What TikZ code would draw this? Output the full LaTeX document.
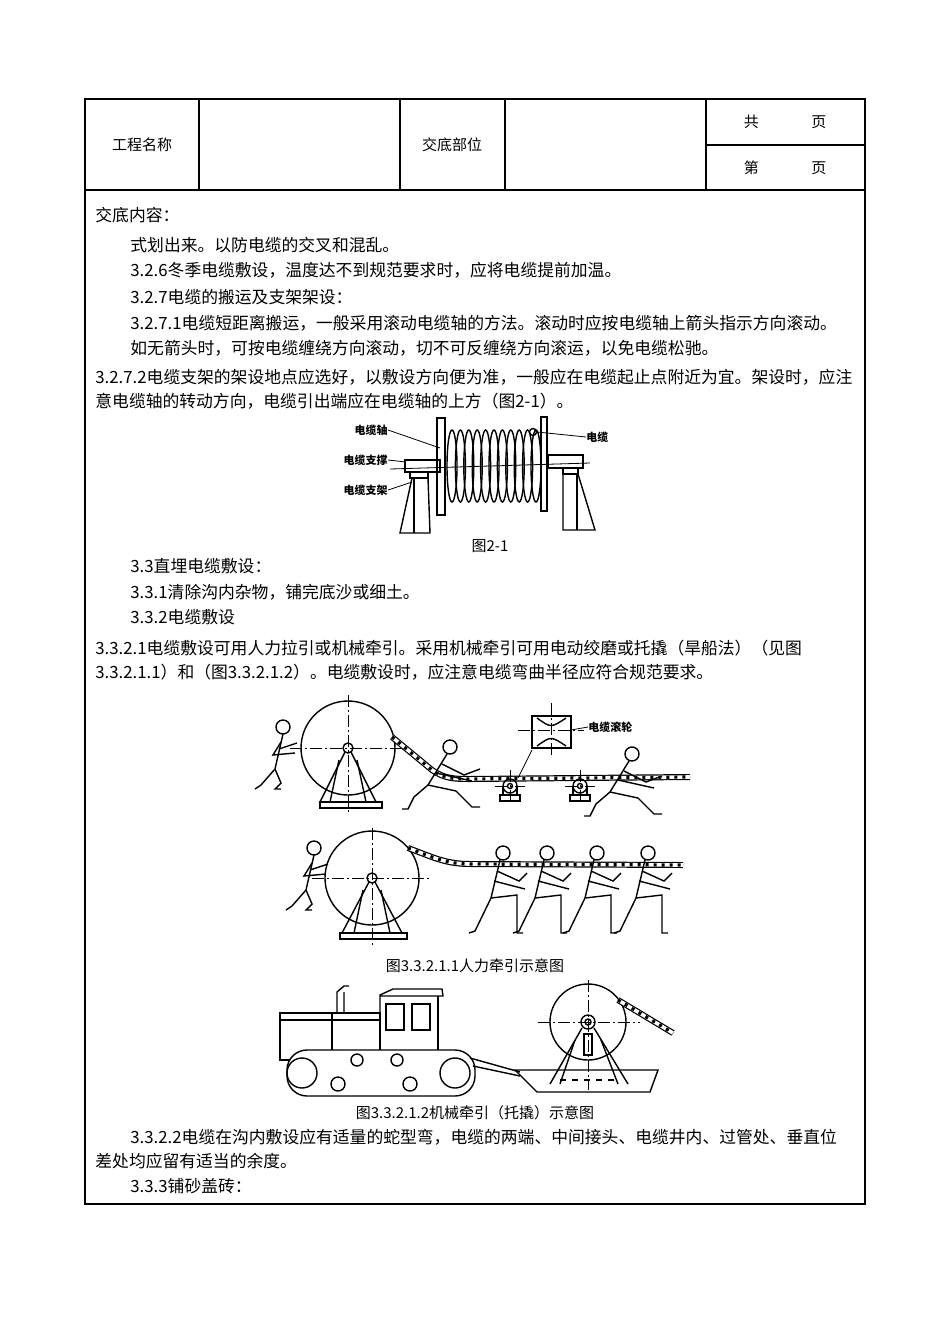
\documentclass[tikz,border=0pt]{standalone}
\usepackage{fontspec}
\setmainfont{Noto Sans CJK SC}
\usetikzlibrary{positioning,calc}
\tikzset{
  x=0.5pt, y=-0.5pt,
  txt/.style={anchor=west, inner sep=0pt, font=\fontsize{8.4pt}{10pt}\selectfont},
  captxt/.style={inner sep=0pt, font=\fontsize{7.5pt}{9pt}\selectfont},
  lbl/.style={inner sep=0pt, font=\bfseries\fontsize{5.5pt}{7pt}\selectfont},
  grid/.style={line width=0.6pt},
  fig/.style={line width=0.7pt},
  axis/.style={line width=0.4pt, dash pattern=on 6pt off 1.5pt on 1pt off 1.5pt},
  pics/walker/.style={code={
    \draw[fig] (0,0) circle (7);
    \draw[fig] (-3,7) -- (-12,45) -- (-28,78) -- (-34,80);
    \draw[fig] (-12,45) -- (14,42) -- (14,80) -- (20,80);
    \draw[fig] (-6,18) -- (16,28) -- (24,20);
    \draw[fig] (-9,28) -- (22,36);}},
  pics/leaner/.style={code={
    \draw[fig] (0,0) circle (7);
    \draw[fig] (-3,7) -- (-22,38) -- (-36,50) -- (-42,62) -- (-48,62);
    \draw[fig] (-22,38) -- (6,44) -- (22,60) -- (30,60);
    \draw[fig] (-8,17) -- (14,28) -- (30,22);
    \draw[fig] (-14,26) -- (22,34);}},
  pics/pusher/.style={code={
    \draw[fig] (0,0) circle (7);
    \draw[fig] (0,7) -- (-8,42) -- (-22,58) -- (-28,62);
    \draw[fig] (-8,42) -- (-2,56) -- (-8,62) -- (-2,62);
    \draw[fig] (-2,15) -- (-10,28) -- (12,26);
    \draw[fig] (-4,22) -- (14,16);}}
}
\newcommand\hcable[1]{%
  \draw[line width=3pt] #1;
  \draw[line width=1.8pt, white] #1;
  \draw[line width=1.6pt, dash pattern=on 1.5pt off 2.5pt] #1;}
\begin{document}
\begin{tikzpicture}
\useasboundingbox (0,0) rectangle (950,1344);
% table frame
\draw[grid] (85,99) rectangle (865,1204);
\draw[grid] (85,190) -- (865,190);
\foreach \cx in {199,400,505,706} \draw[grid] (\cx,99) -- (\cx,190);
\draw[grid] (706,145) -- (865,145);
\node[captxt] (hname) at (142,145) {工程名称};
\node[captxt] (hpart) at (452,145) {交底部位};
\node[captxt] (htotal) at (785,122) {共\hspace{3.5em}页};
\node[captxt] (hpage) at (785,168) {第\hspace{3.5em}页};

% body text
\node[txt] (t1) at (95,215) {交底内容：};
\node[txt] (t2) at (130,245) {式划出来。以防电缆的交叉和混乱。};
\node[txt] (t3) at (130,270) {3.2.6冬季电缆敷设，温度达不到规范要求时，应将电缆提前加温。};
\node[txt] (t4) at (130,297) {3.2.7电缆的搬运及支架架设：};
\node[txt] (t5) at (130,323) {3.2.7.1电缆短距离搬运，一般采用滚动电缆轴的方法。滚动时应按电缆轴上箭头指示方向滚动。};
\node[txt] (t6) at (130,348) {如无箭头时，可按电缆缠绕方向滚动，切不可反缠绕方向滚运，以免电缆松驰。};
\node[txt] (t7) at (95,377) {3.2.7.2电缆支架的架设地点应选好，以敷设方向便为准，一般应在电缆起止点附近为宜。架设时，应注};
\node[txt] (t8) at (95,401) {意电缆轴的转动方向，电缆引出端应在电缆轴的上方（图2-1）。};

% figure 2-1
\draw[fig] (437,418) rectangle (445,515);
\draw[fig] (541,417) rectangle (547,511);
\foreach \i in {0,...,10}
  \draw[fig] (452+\i*8.4,466) ellipse (5 and 36);
\draw[line width=0.4pt] (390,469) -- (590,463);
\draw[fig] (405,460) rectangle (440,472);
\draw[fig] (410,472) rectangle (428,478);
\draw[fig] (412,478) -- (400,533) -- (430,533) -- (428,478);
\draw[fig] (414,478) -- (414,533);
\draw[fig] (548,455) rectangle (583,468);
\draw[fig] (563,468) rectangle (578,474);
\draw[fig] (563,474) -- (563,530) -- (595,530) -- (578,474);
\draw[fig] (577,474) -- (577,530);
\draw[fig] (533,432) circle (3.5);
\node[lbl, anchor=east] (lshaft) at (388,430) {电缆轴};
\node[lbl, anchor=east] (lbrace) at (388,460) {电缆支撑};
\node[lbl, anchor=east] (lstand) at (388,490) {电缆支架};
\node[lbl, anchor=west] (lcable) at (586,437) {电缆};
\draw[line width=0.4pt] (lshaft.east) -- (440,448);
\draw[line width=0.4pt] (lbrace.east) -- (406,462);
\draw[line width=0.4pt] (lstand.east) -- (412,482);
\draw[line width=0.4pt] (lcable.west) -- (537,432);
\node[captxt] (c21) at (490,546) {图2-1};

\node[txt] (t9) at (130,566) {3.3直埋电缆敷设：};
\node[txt] (t10) at (130,592) {3.3.1清除沟内杂物，铺完底沙或细土。};
\node[txt] (t11) at (130,617) {3.3.2电缆敷设};
\node[txt] (t12) at (95,648) {3.3.2.1电缆敷设可用人力拉引或机械牵引。采用机械牵引可用电动绞磨或托撬（旱船法）（见图};
\node[txt] (t13) at (95,672) {3.3.2.1.1）和（图3.3.2.1.2）。电缆敷设时，应注意电缆弯曲半径应符合规范要求。};

% manual pulling, upper
\draw[fig] (348,748) circle (47);
\draw[axis] (290,748) -- (406,748) (348,695) -- (348,815);
\draw[fig] (348,748) circle (5);
\draw[fig] (345,752) -- (320,802) (351,752) -- (376,802);
\draw[fig] (339,760) -- (330,802) (357,760) -- (366,802);
\draw[fig] (320,802) rectangle (382,808);
\hcable{(392,737) -- (432,770) to[out=-35,in=180] (470,779) -- (690,777)}
\foreach \rx in {510,580} {
  \draw[fig] (\rx,786) circle (7) (\rx,786) circle (2.5);
  \draw[fig] (\rx-7,786) -- (\rx-7,795) -- (\rx+7,795) -- (\rx+7,786);
  \draw[fig] (\rx-10,795) rectangle (\rx+10,801);
  \draw[axis] (\rx-15,786) -- (\rx+15,786) (\rx,770) -- (\rx,805);}
\draw[fig] (532,716) rectangle (571,748);
\draw[fig] (537,718) .. controls (551,728) .. (566,718);
\draw[fig] (537,746) .. controls (551,736) .. (566,746);
\draw[axis] (518,730) -- (584,730) (551,703) -- (551,755);
\draw[line width=0.4pt] (532,750) -- (518,778);
\node[lbl, anchor=west] (lroller) at (588,727) {电缆滚轮};
\draw[line width=0.4pt] (571,730) -- (lroller.west);
\pic at (283,727) {pusher};
\pic at (450,747) {leaner};
\pic at (632,754) {leaner};

% manual pulling, lower
\draw[fig] (372,878) circle (47);
\draw[axis] (312,878) -- (432,878) (372,828) -- (372,948);
\draw[fig] (372,878) circle (5);
\draw[fig] (369,882) -- (342,933) (375,882) -- (402,933);
\draw[fig] (363,890) -- (354,933) (381,890) -- (390,933);
\draw[fig] (340,933) rectangle (407,939);
\hcable{(408,848) to[out=-20,in=180] (470,864) -- (683,865)}
\pic at (314,848) {pusher};
\foreach \px in {503,547,597,648} \pic at (\px,853) {walker};
\node[captxt] (c1) at (475,966) {图3.3.2.1.1人力牵引示意图};

% mechanical pulling
\draw[fig] (280,1013) rectangle (332,1060);
\draw[fig] (280,1020) -- (380,1020) (332,1013) -- (380,1013) -- (380,1050);
\draw[fig] (337,1013) -- (337,992) -- (344,986) -- (349,986) (344,992) -- (344,1013);
\draw[fig] (380,1055) -- (380,995) -- (393,989) -- (442,989) -- (443,996) -- (380,996);
\draw[fig] (438,996) -- (438,1055);
\draw[fig] (386,1004) rectangle (404,1030) (412,1004) rectangle (430,1030);
\draw[fig, fill=white, rounded corners=10pt] (287,1050) rectangle (475,1096);
\draw[fig] (302,1073) circle (15) (455,1073) circle (15);
\draw[fig] (357,1060) circle (6) (397,1060) circle (6);
\draw[fig] (338,1084) circle (7) (410,1084) circle (7);
\draw[fig] (470,1058) -- (520,1072) (473,1066) -- (520,1076);
\draw[fig] (515,1070) -- (658,1070) -- (650,1092) -- (537,1092) -- cycle;
\draw[fig] (588,1022) circle (38);
\draw[axis] (538,1022) -- (640,1022) (588,980) -- (588,1090);
\draw[fig] (588,1022) circle (7) (588,1022) circle (3);
\draw[fig] (582,1028) -- (550,1084) (594,1028) -- (628,1084);
\draw[fig] (575,1040) -- (560,1084) (601,1040) -- (618,1084);
\draw[fig] (584,1034) rectangle (592,1055);
\draw[fig, dashed] (560,1080) -- (618,1080);
\hcable{(618,1000) -- (673,1033)}
\node[captxt] (c2) at (475,1113) {图3.3.2.1.2机械牵引（托撬）示意图};

\node[txt] (t14) at (130,1137) {3.3.2.2电缆在沟内敷设应有适量的蛇型弯，电缆的两端、中间接头、电缆井内、过管处、垂直位};
\node[txt] (t15) at (95,1161) {差处均应留有适当的余度。};
\node[txt] (t16) at (130,1186) {3.3.3铺砂盖砖：};
\end{tikzpicture}
\end{document}
